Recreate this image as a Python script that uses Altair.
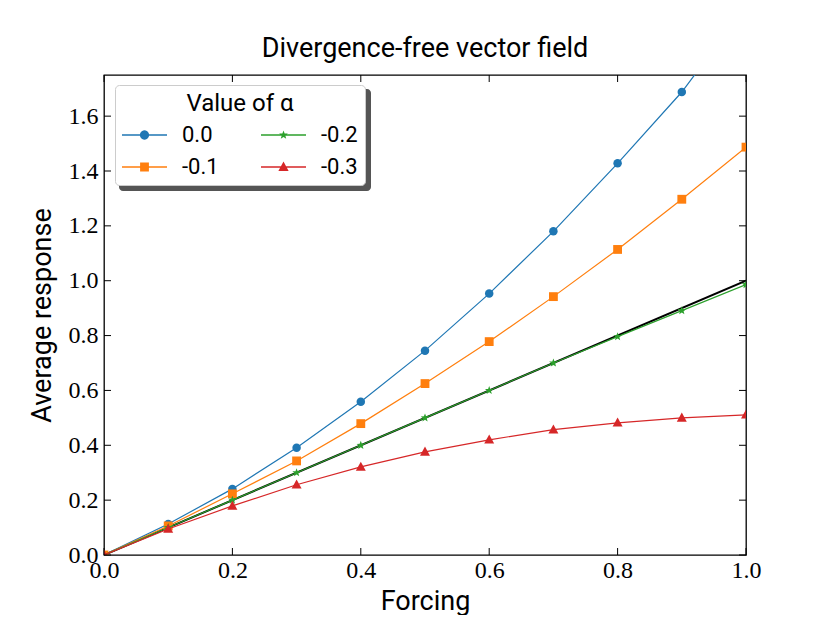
import math
import altair as alt
import pandas as pd

# ---------------- data ----------------
forcing = [0.0, 0.1, 0.2, 0.3, 0.4, 0.5, 0.6, 0.7, 0.8, 0.9, 1.0]
alpha_labels = ["0.0", "-0.1", "-0.2", "-0.3"]
resp_alpha_0 = [0.0, 0.113, 0.241, 0.391, 0.559, 0.745, 0.953, 1.18, 1.428, 1.688, 2.0]
resp_alpha_m1 = [0.0, 0.106, 0.223, 0.343, 0.479, 0.625, 0.778, 0.942, 1.114, 1.297, 1.487]
resp_alpha_m2 = [0.0, 0.1, 0.2, 0.3, 0.4, 0.5, 0.6, 0.7, 0.796, 0.891, 0.986]
resp_alpha_m3 = [0.0, 0.095, 0.179, 0.256, 0.321, 0.376, 0.42, 0.457, 0.482, 0.5, 0.511]
reference_x = [0.0, 1.0]
reference_y = [0.0, 1.0]
x_ticks = [0.0, 0.2, 0.4, 0.6, 0.8, 1.0]
y_ticks = [0.0, 0.2, 0.4, 0.6, 0.8, 1.0, 1.2, 1.4, 1.6]

series = {
    "0.0": resp_alpha_0,
    "-0.1": resp_alpha_m1,
    "-0.2": resp_alpha_m2,
    "-0.3": resp_alpha_m3,
}
rows = []
for a in alpha_labels:
    for f, r in zip(forcing, series[a]):
        rows.append({"forcing": f, "response": r, "alpha": a})
df = pd.DataFrame(rows)
ref_df = pd.DataFrame({"forcing": reference_x, "response": reference_y})
xt_df = pd.DataFrame({"forcing": x_ticks})
yt_df = pd.DataFrame({"response": y_ticks})

# ---------------- style ----------------
W, H = 642, 480
SERIF = "Liberation Serif"
SANS = "Roboto"
COLORS = {"0.0": "#1f77b4", "-0.1": "#ff7f0e", "-0.2": "#2ca02c", "-0.3": "#d62728"}
legend_order = alpha_labels
color_scale = alt.Scale(domain=legend_order, range=[COLORS[a] for a in legend_order])


def fmt(v):
    return f"{v:.4f}".rstrip("0").rstrip(".")


def star(cx, r_out, r_in):
    pts = []
    for i in range(10):
        ang = -math.pi / 2 + i * math.pi / 5
        r = r_out if i % 2 == 0 else r_in
        pts.append((cx + r * math.cos(ang), r * math.sin(ang)))
    return "M" + "L".join(f"{fmt(x)},{fmt(y)}" for x, y in pts) + "Z"


def circle(cx, r):
    return (f"M{fmt(cx + r)},0A{fmt(r)},{fmt(r)},0,1,1,{fmt(cx - r)},0"
            f"A{fmt(r)},{fmt(r)},0,1,1,{fmt(cx + r)},0Z")


def square(cx, h):
    return f"M{fmt(cx - h)},{fmt(-h)}H{fmt(cx + h)}V{fmt(h)}H{fmt(cx - h)}Z"


def tri(cx, s):
    return f"M{fmt(cx)},{fmt(-s)}L{fmt(cx + s * 0.95)},{fmt(s * 0.72)}H{fmt(cx - s * 0.95)}Z"


# legend symbol: a line segment with the marker in its middle
S = 22.0  # legend entry size (px)
u = S / 2.0  # px per path unit
x0, x1 = -S / 2 / u, (45 - S / 2) / u
mid = (22.5 - S / 2) / u
bar = f"M{fmt(x0)},{fmt(-0.75 / u)}H{fmt(x1)}V{fmt(0.75 / u)}H{fmt(x0)}Z"
legend_paths = {
    "0.0": bar + circle(mid, 4.6 / u),
    "-0.1": bar + square(mid, 4.4 / u),
    "-0.2": bar + star(mid, 4.6 / u, 1.9 / u),
    "-0.3": bar + tri(mid, 5.4 / u),
}
marker_shapes = {
    "0.0": "circle",
    "-0.1": "square",
    "-0.2": star(0, 1.0, 0.42),
    "-0.3": tri(0, 1.0),
}
marker_sizes = {"0.0": 72, "-0.1": 78, "-0.2": 80, "-0.3": 110}

xs = alt.Scale(domain=[0, 1], nice=False, zero=False)
ys = alt.Scale(domain=[0, 1.75], nice=False, zero=False)
x_axis = alt.Axis(values=x_ticks, format=".1f", ticks=False, domain=False, grid=False,
                  labelFont=SERIF, labelFontSize=24, labelColor="black", labelPadding=3,
                  labelFlush=False, labelOverlap=False,
                  title="Forcing", titleFont=SANS, titleFontSize=27, titleFontWeight="normal",
                  titleColor="black", titlePadding=6)
y_axis = alt.Axis(values=y_ticks, format=".1f", ticks=False, domain=False, grid=False,
                  labelFont=SERIF, labelFontSize=24, labelColor="black", labelPadding=6,
                  labelFlush=False, labelOverlap=False,
                  title="Average response", titleFont=SANS, titleFontSize=27,
                  titleFontWeight="normal", titleColor="black", titlePadding=12)
X = alt.X("forcing:Q", scale=xs, axis=x_axis)
Y = alt.Y("response:Q", scale=ys, axis=y_axis)

legend = alt.Legend(
    title="Value of α", orient="none", legendX=11, legendY=10, columns=2,
    titleFont=SANS, titleFontSize=24, titleFontWeight="normal", titleColor="black",
    titleAnchor="middle", titlePadding=8,
    labelFont=SANS, labelFontSize=22, labelColor="black", labelOffset=38,
    symbolSize=S * S, symbolStrokeWidth=0, symbolOpacity=1,
    rowPadding=10, columnPadding=42, padding=7,
    fillColor="white", strokeColor="#cccccc", cornerRadius=4,
)

layers = []

# black reference line y = x
layers.append(alt.Chart(ref_df).mark_line(color="black", strokeWidth=2, clip=True).encode(x=X, y=Y))

for a in alpha_labels:
    sub = alt.Chart(df).transform_filter(alt.datum.alpha == a)
    layers.append(sub.mark_line(color=COLORS[a], strokeWidth=1.2, clip=True).encode(x=X, y=Y))
    layers.append(sub.mark_point(shape=marker_shapes[a], filled=True, opacity=1,
                                 color=COLORS[a], size=marker_sizes[a], clip=True)
                  .encode(x=X, y=Y))

# legend shadow
layers.append(
    alt.Chart(pd.DataFrame({"k": [0]})).mark_rect(color="#555555", cornerRadius=4).encode(
        x=alt.value(15), x2=alt.value(267), y=alt.value(14), y2=alt.value(116))
)

# hidden layer that only produces the legend (points moved outside and clipped)
layers.append(
    alt.Chart(df).transform_calculate(response="-10")
    .mark_point(filled=True, opacity=1, clip=True)
    .encode(
        x=X, y=Y,
        color=alt.Color("alpha:N", scale=color_scale, legend=legend),
        shape=alt.Shape("alpha:N", scale=alt.Scale(domain=legend_order,
                                                   range=[legend_paths[a] for a in legend_order]),
                        legend=legend),
    )
)

# inward ticks on all four sides
layers.append(alt.Chart(xt_df).mark_rule(color="black", strokeWidth=1).encode(
    x=X, y=alt.value(H), y2=alt.value(H - 7)))
layers.append(alt.Chart(xt_df).mark_rule(color="black", strokeWidth=1).encode(
    x=X, y=alt.value(0), y2=alt.value(7)))
layers.append(alt.Chart(yt_df).mark_rule(color="black", strokeWidth=1).encode(
    y=Y, x=alt.value(0), x2=alt.value(7)))
layers.append(alt.Chart(yt_df).mark_rule(color="black", strokeWidth=1).encode(
    y=Y, x=alt.value(W), x2=alt.value(W - 7)))

chart = (
    alt.layer(*layers)
    .properties(
        width=W, height=H,
        background="white",
        title=alt.TitleParams("Divergence-free vector field", font=SANS, fontSize=27,
                              fontWeight="normal", color="black", offset=12, anchor="middle"),
        autosize=alt.AutoSizeParams(type="none"),
        padding={"left": 96, "top": 67, "right": 76, "bottom": 60},
    )
    .configure_view(stroke="black", strokeWidth=1.3)
)

chart.save("out.html", embed_options={"renderer": "svg", "actions": False})
